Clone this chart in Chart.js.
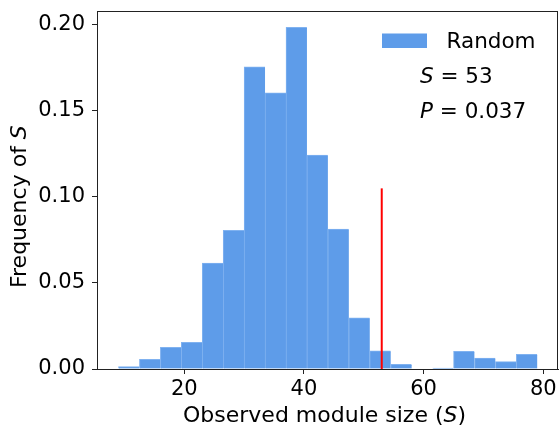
<!DOCTYPE html>
<html>
<head>
<meta charset="utf-8">
<script src="https://cdn.jsdelivr.net/npm/chart.js@4.4.0/dist/chart.umd.min.js"></script>
<style>
  html, body { margin: 0; padding: 0; background: #fff; }
  #wrap { width: 559px; height: 426px; }
</style>
</head>
<body>
<div id="wrap"><canvas id="histChart" width="559" height="426"></canvas></div>
<script>
// bin edges: 20 bins of width 3.5 from 9 to 79
const binStart = 9;
const binWidth = 3.5;
const frequencies = [0.0014, 0.0056, 0.0126, 0.0155, 0.0616, 0.0806, 0.1756, 0.1605, 0.1986, 0.1244,
                     0.0814, 0.0297, 0.0105, 0.0027, 0, 0.0006, 0.0103, 0.0064, 0.0043, 0.0085];
const observedS = 53;
const markerTop = 0.105;
const pValue = '0.037';
const xTicks = [20, 40, 60, 80];
const yTicks = [0, 0.05, 0.10, 0.15, 0.20];

const barColor = 'rgb(94, 156, 233)';
const font = 'DejaVu Sans';

const barData = frequencies.map((f, i) => ({ x: binStart + binWidth * (i + 0.5), y: f }));

// frame, titles and the legend box
const extras = {
    id: 'extras',
    afterDraw(chart) {
        const ctx = chart.ctx;
        const a = chart.chartArea;
        ctx.save();
        ctx.strokeStyle = '#222';
        ctx.lineWidth = 1;
        ctx.strokeRect(a.left + 0.5, a.top + 0.5, a.right - a.left - 1, a.bottom - a.top);

        ctx.fillStyle = '#000';
        ctx.textBaseline = 'alphabetic';
        ctx.textAlign = 'left';

        // x title with italic S
        let x = 183;
        ctx.font = '22px "' + font + '"';
        let t = 'Observed module size (';
        ctx.fillText(t, x, 421.5);
        x += ctx.measureText(t).width;
        ctx.font = 'italic 22px "' + font + '"';
        ctx.fillText('S', x, 421.5);
        x += ctx.measureText('S').width;
        ctx.font = '22px "' + font + '"';
        ctx.fillText(')', x, 421.5);

        // y title, rotated
        ctx.save();
        ctx.translate(25.5, 288);
        ctx.rotate(-Math.PI / 2);
        ctx.font = '22px "' + font + '"';
        t = 'Frequency of ';
        ctx.fillText(t, 0, 0);
        let w = ctx.measureText(t).width;
        ctx.font = 'italic 22px "' + font + '"';
        ctx.fillText('S', w, 0);
        ctx.restore();

        // legend
        ctx.fillStyle = barColor;
        ctx.fillRect(382, 33.5, 45, 14.5);
        ctx.fillStyle = '#000';
        ctx.font = '21.5px "' + font + '"';
        ctx.fillText('Random', 446.5, 48.3);

        const lines = [['S', ' = ' + observedS, 82.7], ['P', ' = ' + pValue, 118]];
        lines.forEach(l => {
            ctx.font = 'italic 21.5px "' + font + '"';
            ctx.fillText(l[0], 420, l[2]);
            const sw = ctx.measureText(l[0]).width;
            ctx.font = '21.5px "' + font + '"';
            ctx.fillText(l[1], 420 + sw, l[2]);
        });
        ctx.restore();
    }
};

new Chart(document.getElementById('histChart').getContext('2d'), {
    type: 'bar',
    data: {
        datasets: [
            {
                type: 'line',
                label: 'S',
                data: [{ x: observedS, y: 0 }, { x: observedS, y: markerTop }],
                borderColor: 'rgb(255, 0, 0)',
                borderWidth: 2,
                pointRadius: 0,
                order: 0
            },
            {
                label: 'Random',
                data: barData,
                backgroundColor: barColor,
                borderColor: 'rgb(128, 178, 240)',
                borderWidth: { top: 1, left: 1, right: 0, bottom: 0 },
                barPercentage: 1,
                categoryPercentage: 1,
                order: 1
            }
        ]
    },
    options: {
        responsive: false,
        animation: false,
        events: [],
        layout: { padding: { top: 11, right: 1, left: 0, bottom: 0 } },
        scales: {
            x: {
                type: 'linear',
                min: 5.41,
                max: 82.46,
                offset: false,
                afterFit: s => { s.height = 57; s.paddingLeft = 0; s.paddingRight = 0; },
                afterBuildTicks: s => { s.ticks = xTicks.map(v => ({ value: v })); },
                grid: { drawOnChartArea: false, offset: false, tickLength: 5, tickColor: '#222' },
                border: { color: '#222' },
                ticks: {
                    color: '#000',
                    padding: 3,
                    maxRotation: 0,
                    font: { family: font, size: 21 }
                }
            },
            y: {
                min: 0,
                max: 0.2081,
                afterFit: s => { s.width = 97; s.paddingTop = 0; s.paddingBottom = 0; },
                afterBuildTicks: s => { s.ticks = yTicks.map(v => ({ value: v })); },
                grid: { drawOnChartArea: false, tickLength: 5, tickColor: '#222' },
                border: { color: '#222' },
                ticks: {
                    color: '#000',
                    padding: 7,
                    font: { family: font, size: 21 },
                    callback: v => v.toFixed(2)
                }
            }
        },
        plugins: {
            legend: { display: false },
            tooltip: { enabled: false }
        }
    },
    plugins: [extras]
});
</script>
</body>
</html>
